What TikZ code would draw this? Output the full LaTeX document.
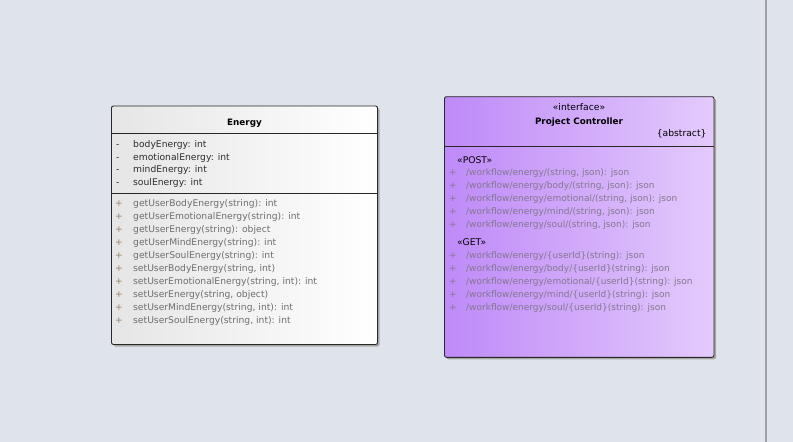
\documentclass[tikz,border=0pt]{standalone}
\usepackage{fontspec}
\setmainfont{DejaVu Sans}
\usetikzlibrary{calc}
\definecolor{canvas}{RGB}{223,227,235}
\definecolor{edgeline}{RGB}{40,40,40}
\definecolor{attrgray}{RGB}{45,45,45}
\definecolor{methgray}{RGB}{110,110,110}
\definecolor{plusbrown}{RGB}{150,130,110}
\definecolor{routegray}{RGB}{130,120,140}
\definecolor{purpleleft}{RGB}{190,138,248}
\definecolor{purpleright}{RGB}{228,202,252}
\definecolor{splitgray}{RGB}{160,160,166}
\tikzset{
	umltext/.style={anchor=base west, inner sep=0pt, font=\fontsize{9.2}{11}\selectfont},
	attrtext/.style={umltext, text=attrgray},
	methtext/.style={umltext, text=methgray},
	vistext/.style={umltext, text=plusbrown},
	routetext/.style={umltext, text=routegray, font=\fontsize{9}{11}\selectfont},
	stereotext/.style={umltext, text=black},
	titletext/.style={anchor=base, inner sep=0pt, font=\fontsize{8.8}{11}\selectfont\bfseries},
}

\begin{document}
\begin{tikzpicture}[x=1pt, y=-1pt]
			%%%%% START %%%%%
			
			\fill[canvas] (0, 0) rectangle (793, 442);
			\useasboundingbox (0, 0) rectangle (793, 442);
			\fill[splitgray] (764.8, 0) rectangle (766.8, 442);
			
			% Energy class
			\fill[black!35, rounded corners=2pt] (113.5, 108) rectangle (379.5, 346.5);
			\draw[edgeline, line width=0.9pt, rounded corners=2pt, left color=black!10, right color=white] (111.5, 106) rectangle (377.5, 344.5);
			\draw[edgeline, line width=0.9pt] (111.5, 133.3) -- (377.5, 133.3);
			\draw[edgeline, line width=0.9pt] (111.5, 193.8) -- (377.5, 193.8);
			
			\node[titletext] (energy-title) at (244.5, 125) {Energy};
			
			\node[attrtext] (e-vis1) at (116, 147.3) {-};
			\node[attrtext] (e-vis2) at (116, 160) {-};
			\node[attrtext] (e-vis3) at (116, 172.7) {-};
			\node[attrtext] (e-vis4) at (116, 185.3) {-};
			\node[attrtext] (e-attr1) at (133, 147.3) {bodyEnergy: int};
			\node[attrtext] (e-attr2) at (133, 160) {emotionalEnergy: int};
			\node[attrtext] (e-attr3) at (133, 172.7) {mindEnergy: int};
			\node[attrtext] (e-attr4) at (133, 185.3) {soulEnergy: int};
			
			\node[vistext] (e-plus1) at (115, 206) {+};
			\node[vistext] (e-plus2) at (115, 219) {+};
			\node[vistext] (e-plus3) at (115, 232) {+};
			\node[vistext] (e-plus4) at (115, 245) {+};
			\node[vistext] (e-plus5) at (115, 258) {+};
			\node[vistext] (e-plus6) at (115, 271) {+};
			\node[vistext] (e-plus7) at (115, 284) {+};
			\node[vistext] (e-plus8) at (115, 297) {+};
			\node[vistext] (e-plus9) at (115, 310) {+};
			\node[vistext] (e-plus10) at (115, 323) {+};
			\node[methtext] (e-meth1) at (133, 206) {getUserBodyEnergy(string): int};
			\node[methtext] (e-meth2) at (133, 219) {getUserEmotionalEnergy(string): int};
			\node[methtext] (e-meth3) at (133, 232) {getUserEnergy(string): object};
			\node[methtext] (e-meth4) at (133, 245) {getUserMindEnergy(string): int};
			\node[methtext] (e-meth5) at (133, 258) {getUserSoulEnergy(string): int};
			\node[methtext] (e-meth6) at (133, 271) {setUserBodyEnergy(string, int)};
			\node[methtext] (e-meth7) at (133, 284) {setUserEmotionalEnergy(string, int): int};
			\node[methtext] (e-meth8) at (133, 297) {setUserEnergy(string, object)};
			\node[methtext] (e-meth9) at (133, 310) {setUserMindEnergy(string, int): int};
			\node[methtext] (e-meth10) at (133, 323) {setUserSoulEnergy(string, int): int};
			
			% Project Controller interface
			\fill[black!35, rounded corners=2pt] (446.5, 98.7) rectangle (716, 359.3);
			\draw[edgeline, line width=0.9pt, rounded corners=2pt, left color=purpleleft, right color=purpleright] (444.5, 96.7) rectangle (714, 357.3);
			\draw[edgeline, line width=0.9pt] (444.5, 146.3) -- (714, 146.3);
			
			\node[stereotext, anchor=base] (pc-stereo) at (579, 110.7) {«interface»};
			\node[titletext] (pc-title) at (579, 124.7) {Project Controller};
			\node[stereotext, anchor=base east] (pc-abstract) at (706.7, 136) {\{abstract\}};
			
			\node[stereotext] (pc-post) at (457, 163.3) {«POST»};
			\node[routetext] (pc-plus1) at (449, 175) {+};
			\node[routetext] (pc-plus2) at (449, 188) {+};
			\node[routetext] (pc-plus3) at (449, 201) {+};
			\node[routetext] (pc-plus4) at (449, 214) {+};
			\node[routetext] (pc-plus5) at (449, 227) {+};
			\node[routetext] (pc-post1) at (466, 175) {/workflow/energy/(string, json): json};
			\node[routetext] (pc-post2) at (466, 188) {/workflow/energy/body/(string, json): json};
			\node[routetext] (pc-post3) at (466, 201) {/workflow/energy/emotional/(string, json): json};
			\node[routetext] (pc-post4) at (466, 214) {/workflow/energy/mind/(string, json): json};
			\node[routetext] (pc-post5) at (466, 227) {/workflow/energy/soul/(string, json): json};
			
			\node[stereotext] (pc-get) at (457, 245) {«GET»};
			\node[routetext] (pc-plus6) at (449, 258.3) {+};
			\node[routetext] (pc-plus7) at (449, 271.3) {+};
			\node[routetext] (pc-plus8) at (449, 284.3) {+};
			\node[routetext] (pc-plus9) at (449, 297.3) {+};
			\node[routetext] (pc-plus10) at (449, 310.3) {+};
			\node[routetext] (pc-get1) at (466, 258.3) {/workflow/energy/\{userId\}(string): json};
			\node[routetext] (pc-get2) at (466, 271.3) {/workflow/energy/body/\{userId\}(string): json};
			\node[routetext] (pc-get3) at (466, 284.3) {/workflow/energy/emotional/\{userId\}(string): json};
			\node[routetext] (pc-get4) at (466, 297.3) {/workflow/energy/mind/\{userId\}(string): json};
			\node[routetext] (pc-get5) at (466, 310.3) {/workflow/energy/soul/\{userId\}(string): json};
			
			%%%%% END %%%%%
\end{tikzpicture}
\end{document}
